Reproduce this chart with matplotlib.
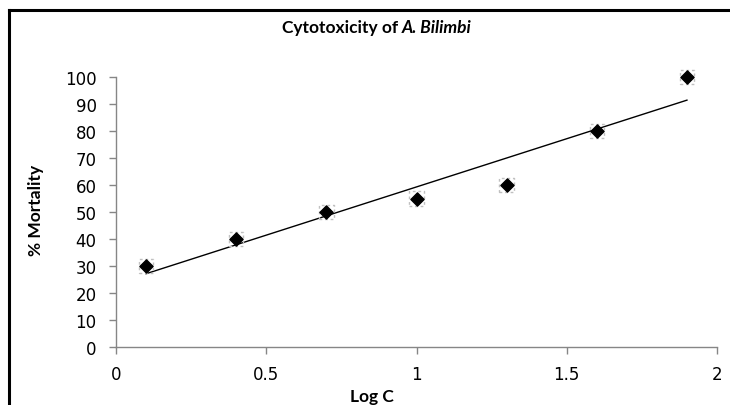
import numpy as np
import matplotlib
matplotlib.use("Agg")
import matplotlib.pyplot as plt

log_c = [0.1, 0.4, 0.7, 1.0, 1.3, 1.6, 1.9]
mortality = [30, 40, 50, 55, 60, 80, 100]
x_ticks = [0, 0.5, 1, 1.5, 2]
x_tick_labels = ["0", "0.5", "1", "1.5", "2"]
y_ticks = list(range(0, 101, 10))

W, H = 730, 406
fig = plt.figure(figsize=(W / 100, H / 100), dpi=100)
fig.patch.set_facecolor("white")

# outer chart border (left and top visible)
fig.add_artist(plt.Line2D([9 / W, 9 / W], [0, 1 - 11 / H], color="black", lw=2.2, transform=fig.transFigure))
fig.add_artist(plt.Line2D([9 / W, 1.0], [1 - 11 / H, 1 - 11 / H], color="black", lw=2.2, transform=fig.transFigure))

left, right, top, bottom = 116, 717, 78, 348
ax = fig.add_axes([left / W, 1 - bottom / H, (right - left) / W, (bottom - top) / H])
ax.set_xlim(0, 2)
ax.set_ylim(0, 100)

# trendline
slope, intercept = np.polyfit(log_c, mortality, 1)
xs = np.array([log_c[0], log_c[-1]])
ax.plot(xs, slope * xs + intercept, color="black", lw=1.0, zorder=2)

ax.scatter(log_c, mortality, marker="s", s=110, facecolor="none", edgecolor="#c0c0c0",
           linestyle=(0, (2, 2)), linewidths=1.0, zorder=3, clip_on=False)
ax.scatter(log_c, mortality, marker="D", s=45, color="black", zorder=4, clip_on=False)

ax.set_xticks(x_ticks)
ax.set_xticklabels(x_tick_labels)
ax.set_yticks(y_ticks)
for s in ["top", "right"]:
    ax.spines[s].set_visible(False)
for s in ["left", "bottom"]:
    ax.spines[s].set_color("#868686")
    ax.spines[s].set_linewidth(1.0)
ax.tick_params(axis="both", direction="out", length=5, width=1.0, color="#868686",
               labelsize=12, labelcolor="black")
ax.tick_params(axis="x", pad=8)
ax.tick_params(axis="y", pad=9)
for lab in ax.get_xticklabels() + ax.get_yticklabels():
    lab.set_fontfamily("DejaVu Sans")

fs = 12.5
fig.text(398 / W, 1 - 28 / H, "Cytotoxicity of", ha="right", va="center",
         fontsize=fs, fontweight="bold", family="Lato")
fig.text(402 / W, 1 - 28 / H, "A. Bilimbi", ha="left", va="center",
         fontsize=fs, fontweight="bold", fontstyle="italic", family="Lato")
fig.text(372 / W, 1 - 397 / H, "Log C", ha="center", va="center", fontsize=fs,
         fontweight="bold", family="Lato")
fig.text(36 / W, 1 - 210 / H, "% Mortality", ha="center", va="center", rotation=90,
         fontsize=fs, fontweight="bold", family="Lato")

fig.savefig("out.png", dpi=100)
